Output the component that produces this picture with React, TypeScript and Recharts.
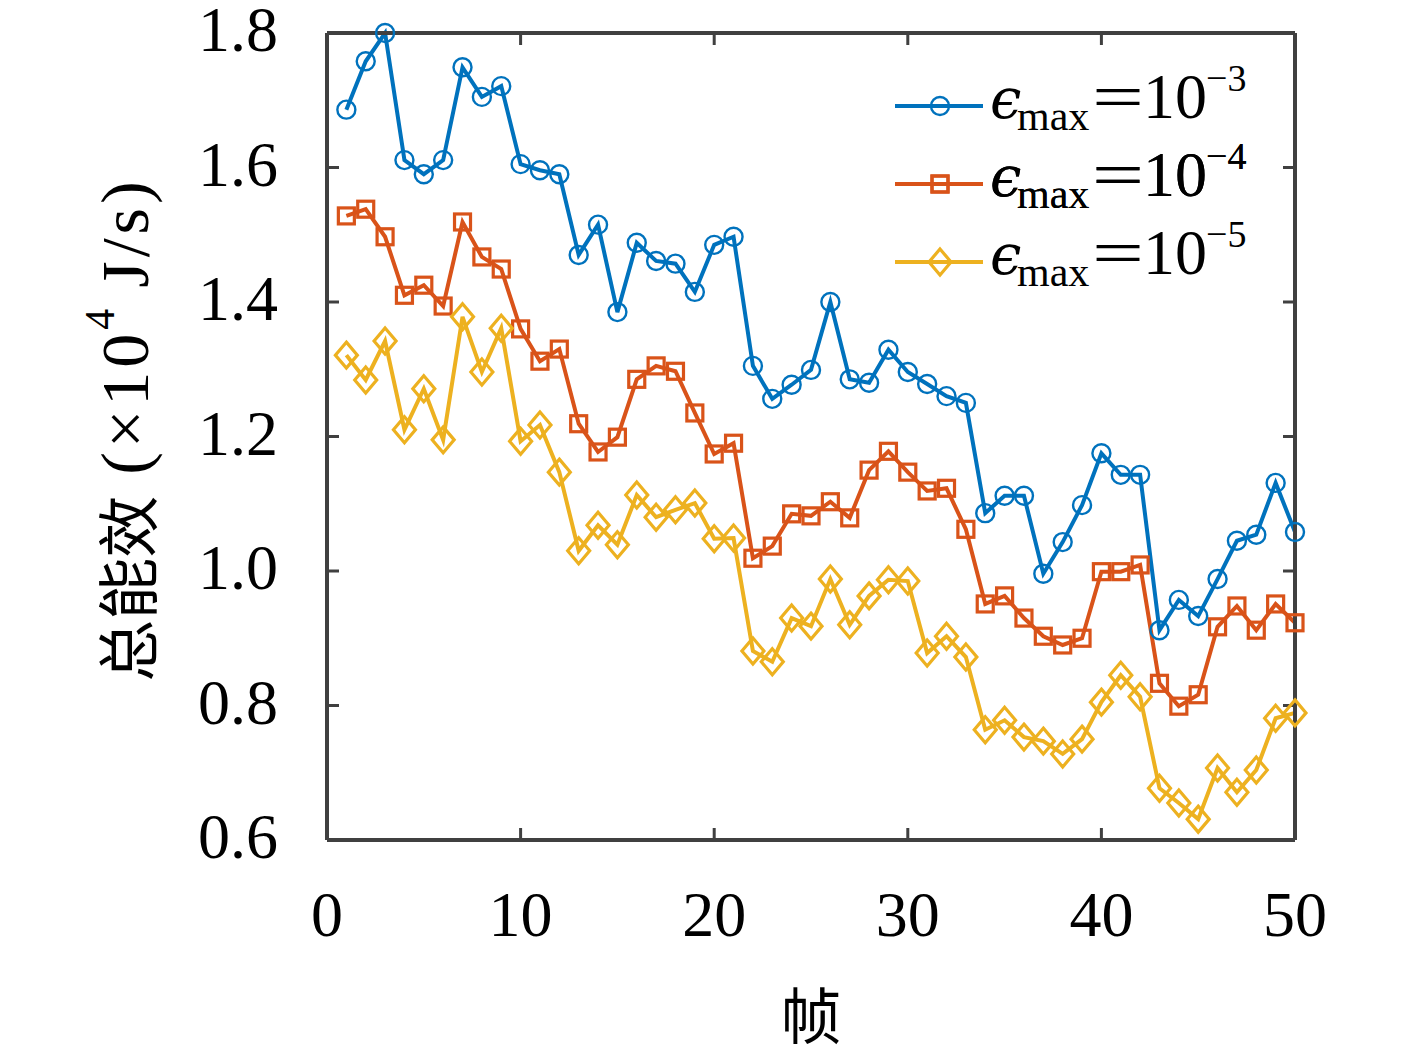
import React from 'react';
import { LineChart, Line, XAxis, YAxis, Legend } from 'recharts';

const frames = [1, 2, 3, 4, 5, 6, 7, 8, 9, 10, 11, 12, 13, 14, 15, 16, 17, 18, 19, 20, 21, 22, 23, 24, 25, 26, 27, 28, 29, 30, 31, 32, 33, 34, 35, 36, 37, 38, 39, 40, 41, 42, 43, 44, 45, 46, 47, 48, 49, 50];

const effE3 = [1.686, 1.758, 1.8, 1.611, 1.59, 1.611, 1.749, 1.705, 1.721, 1.605, 1.596, 1.59, 1.47, 1.515, 1.385, 1.488, 1.461, 1.457, 1.415, 1.485, 1.497, 1.305, 1.256, 1.277, 1.299, 1.4, 1.285, 1.28, 1.329, 1.296, 1.278, 1.26, 1.25, 1.086, 1.112, 1.112, 0.996, 1.043, 1.098, 1.175, 1.143, 1.143, 0.912, 0.957, 0.933, 0.988, 1.045, 1.054, 1.131, 1.058];

const effE4 = [1.528, 1.538, 1.497, 1.41, 1.425, 1.394, 1.519, 1.467, 1.449, 1.36, 1.312, 1.33, 1.219, 1.177, 1.199, 1.285, 1.305, 1.297, 1.235, 1.174, 1.19, 1.019, 1.037, 1.085, 1.082, 1.103, 1.079, 1.15, 1.178, 1.147, 1.119, 1.123, 1.062, 0.951, 0.963, 0.93, 0.903, 0.89, 0.9, 0.999, 0.999, 1.009, 0.833, 0.799, 0.816, 0.917, 0.948, 0.912, 0.951, 0.923];

const effE5 = [1.321, 1.284, 1.342, 1.21, 1.271, 1.195, 1.378, 1.296, 1.361, 1.193, 1.217, 1.147, 1.03, 1.068, 1.039, 1.113, 1.08, 1.091, 1.101, 1.048, 1.049, 0.881, 0.865, 0.93, 0.918, 0.988, 0.92, 0.963, 0.987, 0.985, 0.878, 0.903, 0.872, 0.764, 0.778, 0.753, 0.747, 0.728, 0.75, 0.805, 0.845, 0.813, 0.677, 0.655, 0.631, 0.707, 0.671, 0.704, 0.781, 0.789];

const xTicks = [0, 10, 20, 30, 40, 50];
const yTicks = [0.6, 0.8, 1.0, 1.2, 1.4, 1.6, 1.8];

const seriesList = [
  { key: 'e3', name: 'ϵmax=10−3', exp: '−3', color: '#0072BD', shape: 'circle' },
  { key: 'e4', name: 'ϵmax=10−4', exp: '−4', color: '#D95319', shape: 'square' },
  { key: 'e5', name: 'ϵmax=10−5', exp: '−5', color: '#EDB120', shape: 'diamond' },
];

const data = frames.map((f, i) => ({ frame: f, e3: effE3[i], e4: effE4[i], e5: effE5[i] }));

const AXIS = '#404040';
const SERIF = "'Liberation Serif', 'Noto Sans CJK SC', serif";

function Marker({ cx, cy, shape, color }: { cx: number; cy: number; shape: string; color: string }) {
  if (cx == null || cy == null) return null;
  if (shape === 'circle') {
    return <circle cx={cx} cy={cy} r={9} fill="none" stroke={color} strokeWidth={2.4} />;
  }
  if (shape === 'square') {
    return <rect x={cx - 8} y={cy - 8} width={16} height={16} fill="none" stroke={color} strokeWidth={3.2} />;
  }
  return (
    <polygon
      points={`${cx},${cy - 13} ${cx + 11},${cy} ${cx},${cy + 13} ${cx - 11},${cy}`}
      fill="none"
      stroke={color}
      strokeWidth={3.2}
    />
  );
}

const renderLegend = (props: any) => {
  const payload = (props.payload || []).filter((e: any) => seriesList.some((x) => x.key === e.dataKey));
  return (
    <svg width={420} height={240} style={{ display: 'block', overflow: 'visible' }}>
      {payload.map((entry: any) => {
        const s = seriesList.find((x) => x.key === entry.dataKey)!;
        const i = seriesList.indexOf(s);
        const ly = 46 + 78 * i;
        const by = 58 + 78 * i;
        return (
          <g key={s.key}>
            <line x1={5} x2={93} y1={ly} y2={ly} stroke={s.color} strokeWidth={4} />
            <Marker cx={50} cy={ly} shape={s.shape} color={s.color} />
            <text y={by} fill="#000" fontFamily={SERIF} fontSize={64}>
              <tspan x={100} fontFamily="'DejaVu Serif', serif" fontStyle="italic" fontSize={56}>ϵ</tspan>
              <tspan x={127} dy={12} fontSize={42}>max</tspan>
              <tspan x={202} dy={-12} fontSize={64} textLength={52} lengthAdjust="spacingAndGlyphs">=</tspan>
              <tspan x={253} fontSize={64}>10</tspan>
              <tspan x={316} dy={-27} fontSize={38}>{s.exp}</tspan>
            </text>
          </g>
        );
      })}
    </svg>
  );
};

const YTick = (props: any) => {
  const { x, y, payload } = props;
  return (
    <text x={x} y={y} dy={18} textAnchor="end" fontFamily={SERIF} fontSize={64} fill="#000">
      {Number(payload.value).toFixed(1)}
    </text>
  );
};

const YLabel = (props: any) => {
  const vb = props.viewBox || { x: 0, y: 0, width: 0, height: 0 };
  const cx = vb.x + 125;
  const cy = vb.y + vb.height / 2 - 7;
  return (
    <text
      x={cx}
      y={cy}
      transform={`rotate(-90, ${cx}, ${cy})`}
      textAnchor="middle"
      dominantBaseline="central"
      fontFamily={SERIF}
      fontSize={62}
      fill="#000"
    >
      <tspan fontFamily="'Noto Sans CJK SC', sans-serif">总能效</tspan>
      <tspan fontSize={68} letterSpacing={4}> (×10</tspan>
      <tspan dy={-25} fontSize={42}>4</tspan>
      <tspan dy={25} fontSize={68} letterSpacing={4}> J/s)</tspan>
    </text>
  );
};

const XLabel = (props: any) => {
  const vb = props.viewBox || { x: 0, y: 0, width: 0, height: 0 };
  return (
    <text
      x={vb.x + vb.width / 2}
      y={vb.y + 172}
      textAnchor="middle"
      dominantBaseline="central"
      fontFamily="'Noto Sans CJK SC', sans-serif"
      fontSize={61}
      fill="#000"
    >
      帧
    </text>
  );
};

export default function App() {
  const tickStyle = { fontSize: 64, fill: '#000', fontFamily: SERIF };
  const axisLine = { stroke: AXIS, strokeWidth: 4 };
  const tickLine = { stroke: AXIS, strokeWidth: 3 };
  return (
    <div style={{ margin: -8, width: 1417, height: 1054, background: '#fff', overflow: 'hidden' }}>
      <LineChart width={1417} height={1054} data={data} margin={{ top: 13, right: 62, bottom: 0, left: 0 }}>
        <XAxis
          xAxisId="bottom"
          dataKey="frame"
          type="number"
          domain={[0, 50]}
          ticks={xTicks}
          interval={0}
          height={214}
          tickSize={-12}
          tickMargin={63}
          tick={tickStyle}
          axisLine={axisLine}
          tickLine={tickLine}
          label={<XLabel />}
        />
        <XAxis
          xAxisId="top"
          dataKey="frame"
          orientation="top"
          type="number"
          domain={[0, 50]}
          allowDataOverflow
          ticks={xTicks}
          interval={0}
          height={20}
          tickSize={-12}
          tickFormatter={() => ''}
          axisLine={axisLine}
          tickLine={tickLine}
        />
        <YAxis
          yAxisId="left"
          type="number"
          domain={[0.6, 1.8]}
          ticks={yTicks}
          interval={0}
          width={327}
          tickSize={-12}
          tickMargin={61}
          tick={<YTick />}
          axisLine={axisLine}
          tickLine={tickLine}
          label={<YLabel />}
        />
        <YAxis
          yAxisId="right"
          orientation="right"
          type="number"
          domain={[0.6, 1.8]}
          allowDataOverflow
          ticks={yTicks}
          interval={0}
          width={60}
          tickSize={-12}
          tickFormatter={() => ''}
          axisLine={axisLine}
          tickLine={tickLine}
        />
        <Line
          xAxisId="top"
          yAxisId="right"
          dataKey="e4"
          stroke="none"
          dot={false}
          activeDot={false}
          legendType="none"
          isAnimationActive={false}
        />
        {seriesList.map((s) => (
          <Line
            key={s.key}
            xAxisId="bottom"
            yAxisId="left"
            type="linear"
            dataKey={s.key}
            name={s.name}
            stroke={s.color}
            strokeWidth={4}
            isAnimationActive={false}
            dot={(p: any) => <Marker key={`${s.key}-${p.index}`} cx={p.cx} cy={p.cy} shape={s.shape} color={s.color} />}
            activeDot={false}
          />
        ))}
        <Legend
          layout="vertical"
          align="center"
          verticalAlign="middle"
          content={renderLegend}
          wrapperStyle={{ left: 890, top: 60, width: 420, height: 240 }}
        />
      </LineChart>
    </div>
  );
}
